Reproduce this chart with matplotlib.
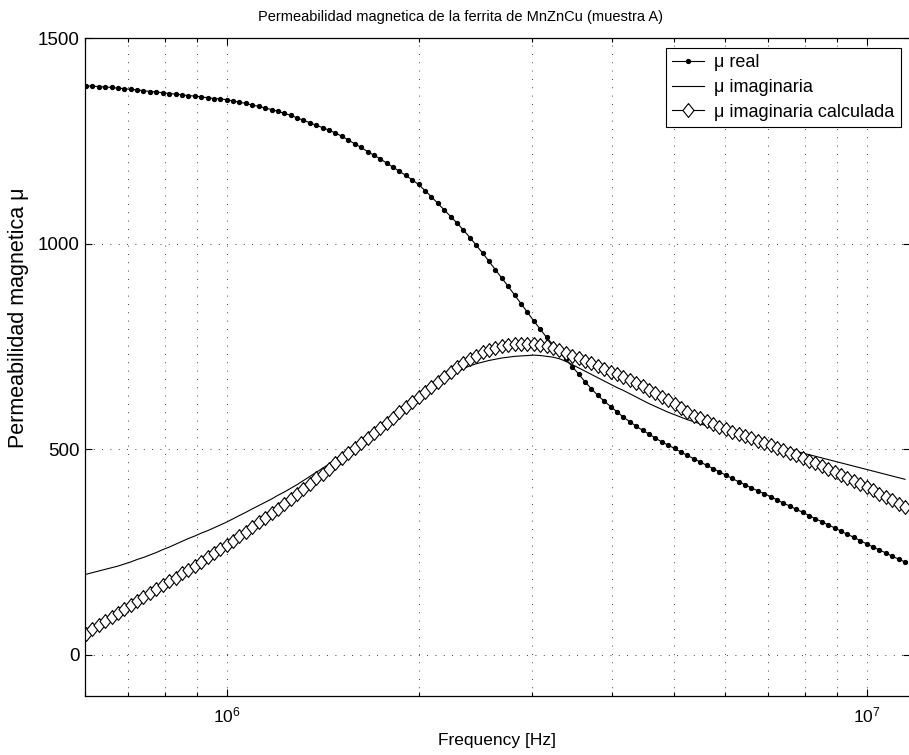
import numpy as np
import matplotlib
matplotlib.use("Agg")
import matplotlib.pyplot as plt

plt.rcParams['font.family'] = ['Liberation Sans', 'DejaVu Sans']
plt.rcParams['mathtext.fontset'] = 'custom'
plt.rcParams['mathtext.rm'] = 'Liberation Sans'

# frequency sweep (kHz)
freq_khz = [
    602.6, 616.6, 631.0, 645.7, 660.7, 676.1, 691.8, 707.9, 724.4, 741.3, 758.6,
    776.2, 794.3, 812.8, 831.8, 851.1, 871.0, 891.3, 912.0, 933.3, 955.0, 977.2,
    1000, 1023, 1047, 1072, 1096, 1122, 1148, 1175, 1202, 1230,
    1259, 1288, 1318, 1349, 1380, 1413, 1445, 1479, 1514, 1549,
    1585, 1622, 1660, 1698, 1738, 1778, 1820, 1862, 1905, 1950,
    1995, 2042, 2089, 2138, 2188, 2239, 2291, 2344, 2399, 2455,
    2512, 2570, 2630, 2692, 2754, 2818, 2884, 2951, 3020, 3090,
    3162, 3236, 3311, 3388, 3467, 3548, 3631, 3715, 3802, 3890,
    3981, 4074, 4169, 4266, 4365, 4467, 4571, 4677, 4786, 4898,
    5012, 5129, 5248, 5370, 5495, 5623, 5754, 5888, 6026, 6166,
    6310, 6457, 6607, 6761, 6918, 7079, 7244, 7413, 7586, 7762,
    7943, 8128, 8318, 8511, 8710, 8913, 9120, 9333, 9550, 9772,
    10000, 10230, 10470, 10720, 10960, 11220, 11480,
]

mu_real = [
    1384, 1383, 1382, 1381, 1380, 1378, 1377, 1375, 1374, 1372, 1370,
    1369, 1367, 1365, 1364, 1362, 1360, 1359, 1357, 1355, 1353, 1352,
    1350, 1347, 1344, 1341, 1337, 1334, 1330, 1326, 1322, 1317,
    1312, 1306, 1300, 1294, 1288, 1282, 1276, 1269, 1261, 1252,
    1243, 1234, 1224, 1215, 1206, 1196, 1186, 1176, 1166, 1155,
    1144, 1129, 1114, 1098, 1082, 1066, 1050, 1033, 1015, 996,
    977, 957, 937, 916, 896, 875, 854, 833, 812, 792,
    772, 754, 737, 719, 701, 683, 664, 647, 631, 617,
    604, 591, 578, 567, 556, 546, 537, 527, 518, 510,
    502, 493, 485, 477, 469, 461, 453, 445, 437, 429,
    421, 414, 406, 399, 392, 385, 377, 369, 362, 354,
    347, 339, 331, 324, 316, 309, 301, 293, 286, 278,
    270, 263, 255, 248, 240, 233, 226,
]

mu_imag = [
    196, 200, 204, 208, 212, 216, 221, 226, 232, 237, 243,
    249, 256, 262, 269, 276, 283, 289, 296, 302, 309, 316,
    323, 331, 339, 347, 355, 363, 371, 379, 388, 396,
    405, 414, 424, 434, 444, 454, 464, 475, 486, 497,
    508, 519, 530, 541, 552, 564, 575, 587, 598, 610,
    621, 634, 646, 658, 669, 679, 688, 696, 703, 708,
    712, 716, 719, 722, 724, 726, 727, 728, 729, 728,
    726, 724, 720, 714, 706, 698, 690, 682, 674, 666,
    658, 650, 643, 635, 627, 619, 611, 604, 597, 590,
    584, 578, 572, 567, 562, 557, 552, 547, 542, 538,
    533, 529, 524, 520, 516, 511, 507, 503, 499, 495,
    491, 487, 483, 479, 475, 471, 467, 463, 459, 455,
    451, 447, 443, 439, 435, 431, 427,
]

mu_imag_calc = [
    52, 62, 72, 82, 92, 102, 112, 122, 131, 141, 150,
    160, 169, 179, 188, 198, 207, 217, 227, 237, 247, 257,
    267, 278, 289, 300, 311, 322, 333, 344, 356, 367,
    379, 391, 403, 416, 429, 441, 453, 466, 478, 490,
    503, 515, 528, 540, 552, 565, 577, 590, 602, 614,
    627, 640, 652, 664, 676, 688, 699, 709, 719, 728,
    736, 742, 747, 751, 754, 756, 757, 757, 756, 754,
    751, 747, 741, 735, 728, 722, 715, 709, 702, 695,
    689, 682, 675, 668, 660, 653, 645, 637, 628, 619,
    610, 600, 591, 582, 575, 568, 561, 555, 549, 543,
    538, 532, 527, 521, 515, 510, 504, 498, 492, 485,
    479, 472, 466, 459, 452, 445, 438, 431, 423, 416,
    408, 400, 392, 384, 376, 368, 359,
]

freq = np.array(freq_khz) * 1e3

# slightly tall diamond, like the MATLAB marker
diamond = [(0, 1), (0.8, 0), (0, -1), (-0.8, 0), (0, 1)]

fig = plt.figure(figsize=(9.09, 7.55), dpi=100)
ax = fig.add_axes([0.0932, 0.0781, 0.9082, 0.8715])

ax.plot(freq, mu_real, '-', color='k', lw=0.8, marker='o', ms=2.8,
        mfc='k', mec='k', label='\u03bc real')
ax.plot(freq, mu_imag, '-', color='k', lw=0.8, label='\u03bc imaginaria')
ax.plot(freq, mu_imag_calc, '-', color='k', lw=0.8, marker=diamond, ms=10,
        mfc='white', mec='k', mew=0.8, label='\u03bc imaginaria calculada')

ax.set_xscale('log')
ax.set_xlim(6.0e5, 1.17e7)
ax.set_ylim(-100, 1500)
ax.set_yticks([0, 500, 1000, 1500])

ax.grid(True, which='major', axis='both', color='k', lw=0.6, linestyle=(0, (1, 9)))
ax.grid(True, which='minor', axis='x', color='k', lw=0.6, linestyle=(0, (1, 9)))

ax.tick_params(which='both', direction='in', top=True, right=True)
ax.tick_params(axis='y', labelsize=13.5)
ax.tick_params(axis='x', which='both', labelsize=12.5, pad=7)
ax.tick_params(which='major', length=5, width=0.8)
ax.tick_params(which='minor', length=3, width=0.8)
for s in ax.spines.values():
    s.set_linewidth(0.9)

ax.set_title('Permeabilidad magnetica de la ferrita de MnZnCu (muestra A)',
             fontsize=10.5, pad=12, x=0.2099, ha='left')
ax.set_xlabel('Frequency [Hz]', fontsize=12.5, labelpad=5)
ax.set_ylabel('Permeabilidad magnetica \u03bc', fontsize=15.5)
ax.yaxis.set_label_coords(-0.0675, 0.5745)

leg = ax.legend(loc='upper right', bbox_to_anchor=(0.9888, 0.9848), fontsize=13,
                fancybox=False, edgecolor='k', framealpha=1, borderpad=0.35,
                labelspacing=0.42, handlelength=1.75, handletextpad=0.6,
                borderaxespad=0)
leg.get_frame().set_linewidth(0.8)

fig.savefig('out.png', dpi=100)
